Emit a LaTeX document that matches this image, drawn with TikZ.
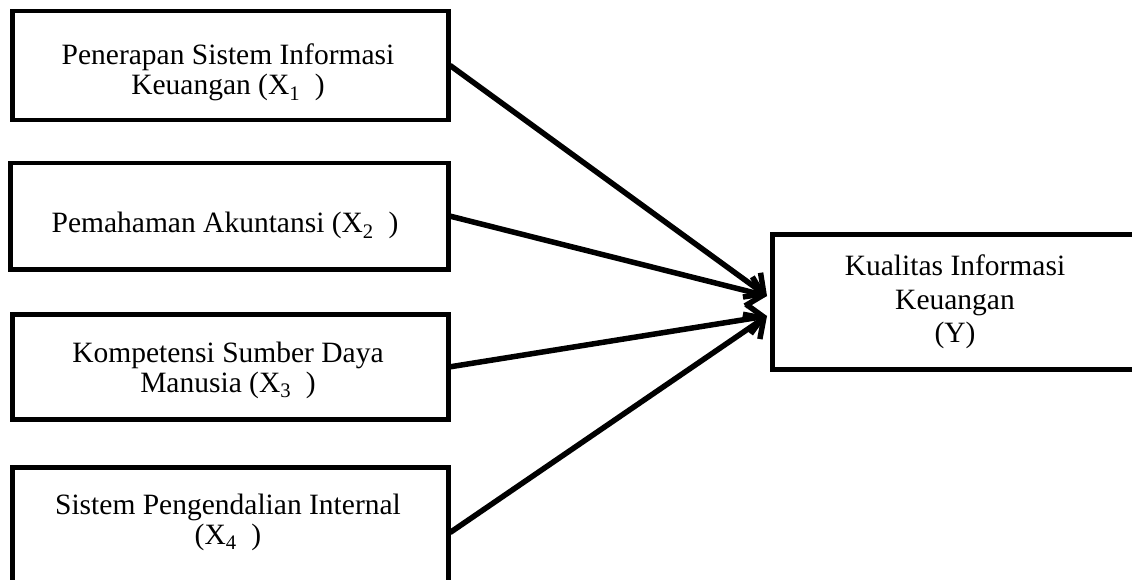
\documentclass[tikz,border=0pt]{standalone}
\usepackage{fontspec}
\setmainfont{Liberation Serif}
\usetikzlibrary{arrows.meta}
\tikzset{
  box/.style={draw=black, line width=4.5pt, fill=white, rectangle, inner sep=0pt},
  txt/.style={font=\fontsize{29.5}{30}\selectfont, align=center, inner sep=0pt},
  rtxt/.style={font=\fontsize{29.5}{33.5}\selectfont, align=center, inner sep=0pt},
  link/.style={line width=5.5pt, -{Straight Barb[length=15pt,width=30pt,line width=5.5pt]}, line cap=round}
}
\begin{document}
\begin{tikzpicture}[x=1pt,y=-1pt]
\useasboundingbox (0,0) rectangle (1132,580);
\clip (0,0) rectangle (1132,580);
% boxes
\node[box, minimum width=436pt, minimum height=109pt, anchor=north west] (b1) at (10,9) {};
\node[box, minimum width=438pt, minimum height=106pt, anchor=north west] (b2) at (8,161) {};
\node[box, minimum width=436pt, minimum height=105pt, anchor=north west] (b3) at (10,312) {};
\node[box, minimum width=436pt, minimum height=130pt, anchor=north west] (b4) at (10,465) {};
\node[box, minimum width=370pt, minimum height=135pt, anchor=north west] (y) at (770,232) {};
% texts
\node[txt] (t1) at (228,72.75) {Penerapan Sistem Informasi\\Keuangan (X\textsubscript{1}\ \ )};
\node[txt, anchor=base] (t2) at (225,233) {Pemahaman Akuntansi (X\textsubscript{2}\ \ )};
\node[txt] (t3) at (228,370.75) {Kompetensi Sumber Daya\\Manusia (X\textsubscript{3}\ \ )};
\node[txt] (t4) at (228,522.75) {Sistem Pengendalian Internal\\(X\textsubscript{4}\ \ )};
\node[rtxt] (ty) at (955,302) {Kualitas Informasi\\Keuangan\\(Y)};
% arrow tips
\coordinate (e1) at (767,296);
\coordinate (e2) at (767,316);
\draw[link] (b1.east) -- (e1);
\draw[link] (b2.east) -- (e1);
\draw[link] (b3.east) -- (e2);
\draw[link] (b4.east) -- (e2);
\end{tikzpicture}
\end{document}
